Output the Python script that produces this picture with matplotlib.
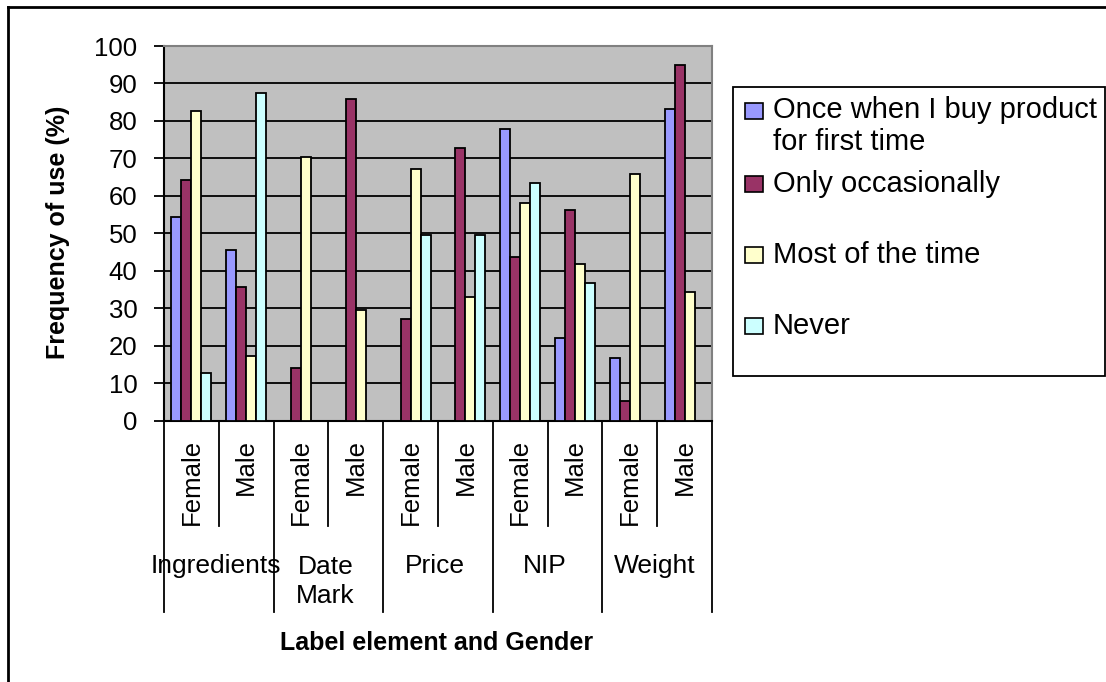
import matplotlib
matplotlib.use('Agg')
import matplotlib.pyplot as plt
import numpy as np
from matplotlib import transforms
from matplotlib.patches import Rectangle
from matplotlib.lines import Line2D

plt.rcParams['font.family'] = ['Liberation Sans', 'DejaVu Sans']

elements = ['Ingredients', 'Date\nMark', 'Price', 'NIP', 'Weight']
genders = ['Female', 'Male']
series = ['Once when I buy product\nfor first time', 'Only occasionally',
          'Most of the time', 'Never']
colours = ['#9999FF', '#993366', '#FFFFCC', '#CCFFFF']

# one value per element/gender pair: Ingredients F, Ingredients M, Date Mark F, ...
once_first = [54.3, 45.4, 0, 0, 0, 0, 77.9, 22.0, 16.8, 83.1]
occasionally = [64.3, 35.6, 14.0, 85.8, 27.2, 72.7, 43.6, 56.3, 5.2, 95.0]
most_time = [82.6, 17.3, 70.3, 29.6, 67.1, 32.9, 58.2, 41.7, 65.7, 34.2]
never = [12.6, 87.4, 0, 0, 49.6, 49.6, 63.4, 36.6, 0, 0]
values = [once_first, occasionally, most_time, never]

W, H = 1106, 682
fig = plt.figure(figsize=(W / 100, H / 100), dpi=100)

def fx(px):
    return px / W

def fy(py):
    return 1 - py / H

# plot area in pixels
left, right, top, bottom = 164, 712, 46, 420.5
ax = fig.add_axes([fx(left), fy(bottom), fx(right) - fx(left), fy(top) - fy(bottom)])
ax.set_facecolor('#C0C0C0')

def ay(py):
    return (bottom - py) / (bottom - top)

x = np.arange(len(once_first))
w = 0.183
for k, (vals, col) in enumerate(zip(values, colours)):
    vals = np.array(vals, dtype=float)
    keep = vals > 0
    ax.bar(x[keep] + (k - 1.5) * w, vals[keep], w, color=col,
           edgecolor='black', linewidth=1.3, zorder=3)

for g in range(10, 100, 10):
    ax.axhline(g, color='black', lw=1.3, zorder=1)

ax.set_xlim(-0.5, 9.5)
ax.set_ylim(0, 100)
ax.set_yticks(range(0, 101, 10))
ax.set_xticks([])
ax.tick_params(axis='y', direction='out', length=7, width=1.3, pad=12, labelsize=18.5)
for s in ['left', 'bottom']:
    ax.spines[s].set_color('black')
    ax.spines[s].set_linewidth(1.5)
for s in ['top', 'right']:
    ax.spines[s].set_color('#808080')
    ax.spines[s].set_linewidth(1.5)

# two-level category axis below the plot
trans = transforms.blended_transform_factory(ax.transData, ax.transAxes)
for i, b in enumerate(np.arange(-0.5, 10, 1)):
    low = ay(612) if i % 2 == 0 else ay(526)
    ax.plot([b, b], [0, low], transform=trans, clip_on=False, color='black', lw=1.3)
for i in x:
    ax.text(i, ay(439), genders[i % 2], rotation=90, ha='center', va='top',
            transform=trans, fontsize=18.5)
# baseline alignment goes by the last line, so push multi-line names down
for g, name in enumerate(elements):
    nl = name.count('\n')
    ax.text(2 * g + 0.45, ay(573 + 30 * nl), name, ha='center', va='baseline',
            transform=trans, fontsize=19, linespacing=1.24)

fig.text(fx(58), fy(232.5), 'Frequency of use (%)', rotation=90, ha='center',
         va='center', fontsize=18, weight='bold')
fig.text(fx(437), fy(643), 'Label element and Gender', ha='center', va='center',
         fontsize=18, weight='bold')

# legend box
fig.add_artist(Rectangle((fx(733), fy(376)), fx(1105) - fx(733), fy(87) - fy(376),
                         transform=fig.transFigure, fill=False, ec='black', lw=1.3))
for c, lab, col in zip([111, 184, 255, 326], series, colours):
    fig.add_artist(Rectangle((fx(744.5), fy(c + 8)), fx(18), fy(0) - fy(16),
                             transform=fig.transFigure, fc=col, ec='black', lw=1.2))
    nl = lab.count('\n')
    fig.text(fx(773), fy(c + 8 + 31 * nl), lab, ha='left', va='baseline', fontsize=21,
             linespacing=1.16)

# outer chart border
fig.add_artist(Line2D([fx(8), fx(8)], [fy(7), 0], transform=fig.transFigure,
                      color='black', lw=2))
fig.add_artist(Line2D([fx(8), 1], [fy(7), fy(7)], transform=fig.transFigure,
                      color='black', lw=2))

fig.savefig('out.png', dpi=100)
